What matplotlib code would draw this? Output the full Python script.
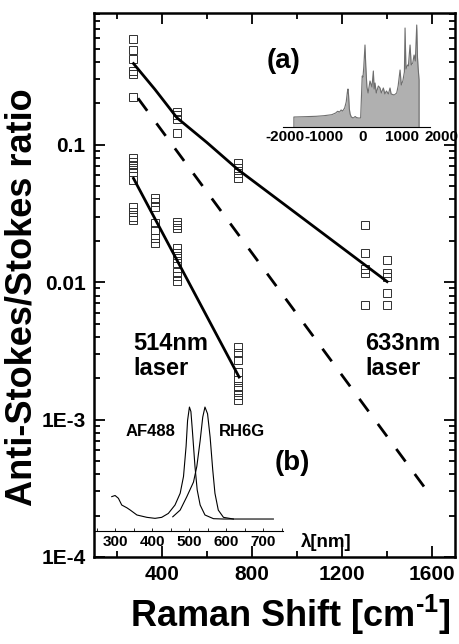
import numpy as np
import matplotlib.pyplot as plt
from matplotlib.ticker import FixedLocator, NullFormatter, MultipleLocator

plt.rcParams['font.family'] = ['Liberation Sans', 'DejaVu Sans']
plt.rcParams['font.weight'] = 'bold'
plt.rcParams['mathtext.fontset'] = 'custom'
plt.rcParams['mathtext.rm'] = 'Liberation Sans:bold'
plt.rcParams['mathtext.default'] = 'rm'
plt.rcParams['axes.unicode_minus'] = False

# 633 nm excitation: measured anti-Stokes/Stokes ratios
shift_633 = [275] * 6 + [468] * 4 + [738] * 4 + [1301] * 5 + [1399] * 5
ratio_633 = [0.585, 0.486, 0.418, 0.343, 0.326, 0.221,
             0.172, 0.164, 0.153, 0.121,
             0.0733, 0.0675, 0.062, 0.057,
             0.026, 0.0163, 0.0124, 0.0116, 0.0068,
             0.0145, 0.0117, 0.0109, 0.0083, 0.0068]
fit_shift_633 = [275, 370, 468, 600, 738, 1399]
fit_ratio_633 = [0.39, 0.253, 0.157, 0.104, 0.066, 0.0101]

# 514 nm excitation
shift_514 = [275] * 10 + [370] * 7 + [470] * 10 + [740] * 9
ratio_514 = [0.0798, 0.0746, 0.0709, 0.0675, 0.0631, 0.0552, 0.0351, 0.0323, 0.0297, 0.0285,
             0.0408, 0.0382, 0.0351, 0.0268, 0.0239, 0.0209, 0.0192,
             0.0273, 0.026, 0.0247, 0.0177, 0.0163, 0.015, 0.0137, 0.0118, 0.0111, 0.0102,
             0.00337, 0.00305, 0.00271, 0.00221, 0.00194, 0.00175, 0.00164, 0.00151, 0.00139]
fit_shift_514 = [275, 743]
fit_ratio_514 = [0.057, 0.00204]

# thermal (Boltzmann) reference line
boltz_shift = [295, 1567]
boltz_ratio = [0.218, 3.18e-4]

# inset (a): SERS spectrum, anti-Stokes and Stokes side
spec_shift = [-1770, -1770, -1500, -1200, -1000, -800, -700, -650, -600, -560, -520, -470,
              -430, -400, -385, -370, -350, -330, -300, -250, -200, -170, -120, -60,
              -40, -20, 0, 20, 51, 70, 100, 130, 179, 230, 265, 285, 308, 340, 393, 436,
              470, 490, 521, 560, 600, 650, 692, 720, 800, 863, 900, 949, 980, 1020,
              1060, 1077, 1100, 1140, 1162, 1205, 1235, 1274, 1308, 1340, 1376, 1395,
              1410, 1436, 1436]
spec_int = [0, 10, 10.3, 10.7, 11.3, 12.3, 14, 15.7, 15, 17, 16, 19,
            25, 35, 38, 32, 18, 13, 10, 9, 10.5, 9.5, 9, 9,
            30, 51, 50, 60, 82, 62, 40, 34, 46, 40, 56, 38, 44, 34, 41, 39,
            34, 36, 39, 33, 36, 33, 39, 33, 32, 34, 41, 57, 42, 46,
            55, 99, 58, 62, 61, 82, 62, 64, 72, 66, 102, 70,
            60, 47, 0]

# inset (b): dye spectra
af488_nm = [291, 300, 309, 318, 332, 341, 359, 386, 408, 426, 444, 462, 476, 485, 492,
            496, 501, 505, 509, 516, 522, 530, 543, 566, 593, 620]
af488_int = [0.20, 0.21, 0.185, 0.125, 0.10, 0.08, 0.036, 0.015, 0.006, 0.015, 0.05, 0.125,
             0.23, 0.38, 0.65, 0.88, 1.0, 0.96, 0.79, 0.47, 0.26, 0.125, 0.036, 0.003, 0.0, 0.0]
rh6g_nm = [456, 476, 494, 512, 521, 530, 537, 543, 550, 557, 564, 570, 579, 593, 620, 728]
rh6g_int = [0.02, 0.08, 0.2, 0.33, 0.47, 0.7, 0.91, 1.0, 0.94, 0.73, 0.44, 0.23, 0.08,
            0.015, 0.0, 0.0]

W, H = 459, 644
fig = plt.figure(figsize=(W / 100, H / 100), dpi=100)


def box(l, t, r, b):
    return [l / W, 1 - b / H, (r - l) / W, (b - t) / H]


ax = fig.add_axes(box(94, 13, 455, 557))
ax.set_yscale('log')
ax.set_xlim(100, 1700)
ax.set_ylim(1e-4, 0.91)

ax.plot(shift_633, ratio_633, 's', mfc='none', mec='#303030', ms=5.5, mew=0.7, ls='none')
ax.plot(shift_514, ratio_514, 's', mfc='none', mec='#303030', ms=5.5, mew=0.7, ls='none')
ax.plot(fit_shift_633, fit_ratio_633, '-', color='black', lw=2)
ax.plot(fit_shift_514, fit_ratio_514, '-', color='black', lw=2)
ax.plot(boltz_shift, boltz_ratio, color='black', lw=2, dashes=(5.6, 5.6))

ax.xaxis.set_major_locator(FixedLocator([400, 800, 1200, 1600]))
ax.xaxis.set_minor_locator(MultipleLocator(200))
ax.yaxis.set_major_locator(FixedLocator([1e-4, 1e-3, 1e-2, 1e-1]))
ax.yaxis.set_minor_locator(FixedLocator([m * 10.0 ** e for e in range(-4, 0) for m in range(2, 10)]))
ax.yaxis.set_minor_formatter(NullFormatter())
ax.set_yticklabels(['1E-4', '1E-3', '0.01', '0.1'])
ax.tick_params(which='both', direction='in', top=True, right=True, width=1.3)
ax.tick_params(which='major', length=8, labelsize=15, pad=6)
ax.tick_params(which='minor', length=4.5)
for s in ax.spines.values():
    s.set_linewidth(1.8)

ax.text(273, 0.0029, '514nm\nlaser', fontsize=17, ha='left', va='center', linespacing=1.1)
ax.text(1301, 0.0029, '633nm\nlaser', fontsize=17, ha='left', va='center', linespacing=1.1)
ax.text(942, 0.41, '(a)', fontsize=20, ha='center', va='center')
ax.text(978, 4.8e-4, '(b)', fontsize=20, ha='center', va='center')

fig.text(22 / W, 1 - 297 / H, 'Anti-Stokes/Stokes ratio', rotation=90,
         ha='center', va='center', fontsize=26)
fig.text(290 / W, 1 - 615 / H, r'Raman Shift [cm$^{\text{-1}}$]', ha='center', va='center', fontsize=26)

# inset (a)
axa = fig.add_axes(box(281, 24, 445, 127))
axa.fill_between(spec_shift, spec_int, color='#b0b0b0', lw=0)
axa.plot(spec_shift, spec_int, color='#6e6e6e', lw=0.8)
axa.set_xlim(-2100, 2100)
axa.set_ylim(0, 103)
axa.patch.set_alpha(0)
for k in ['left', 'right', 'top']:
    axa.spines[k].set_visible(False)
axa.spines['bottom'].set_bounds(-2050, 1720)
axa.spines['bottom'].set_linewidth(0.8)
axa.set_yticks([])
axa.set_xticks([-2000, -1000, 0, 1000, 2000])
axa.tick_params(axis='x', length=0, labelsize=11, pad=2)

# inset (b)
axb = fig.add_axes(box(94, 400, 283, 531))
axb.plot(af488_nm, af488_int, color='black', lw=0.8)
axb.plot(rh6g_nm, rh6g_int, color='black', lw=0.8)
axb.set_xlim(243, 754)
axb.set_ylim(-0.107, 1.063)
axb.patch.set_alpha(0)
for k in ['left', 'right', 'top']:
    axb.spines[k].set_visible(False)
axb.spines['bottom'].set_linewidth(0.8)
axb.set_yticks([])
axb.set_xticks([300, 400, 500, 600, 700])
axb.xaxis.set_minor_locator(MultipleLocator(50))
axb.tick_params(axis='x', which='both', direction='in', length=2, width=0.6, labelsize=11, pad=3)
axb.text(395, 0.78, 'AF488', fontsize=12, ha='center', va='center')
axb.text(643, 0.78, 'RH6G', fontsize=12, ha='center', va='center')
axb.text(870, -0.205, 'λ[nm]', fontsize=13.5, ha='center', va='center', clip_on=False)

fig.savefig('out.png', dpi=100)
